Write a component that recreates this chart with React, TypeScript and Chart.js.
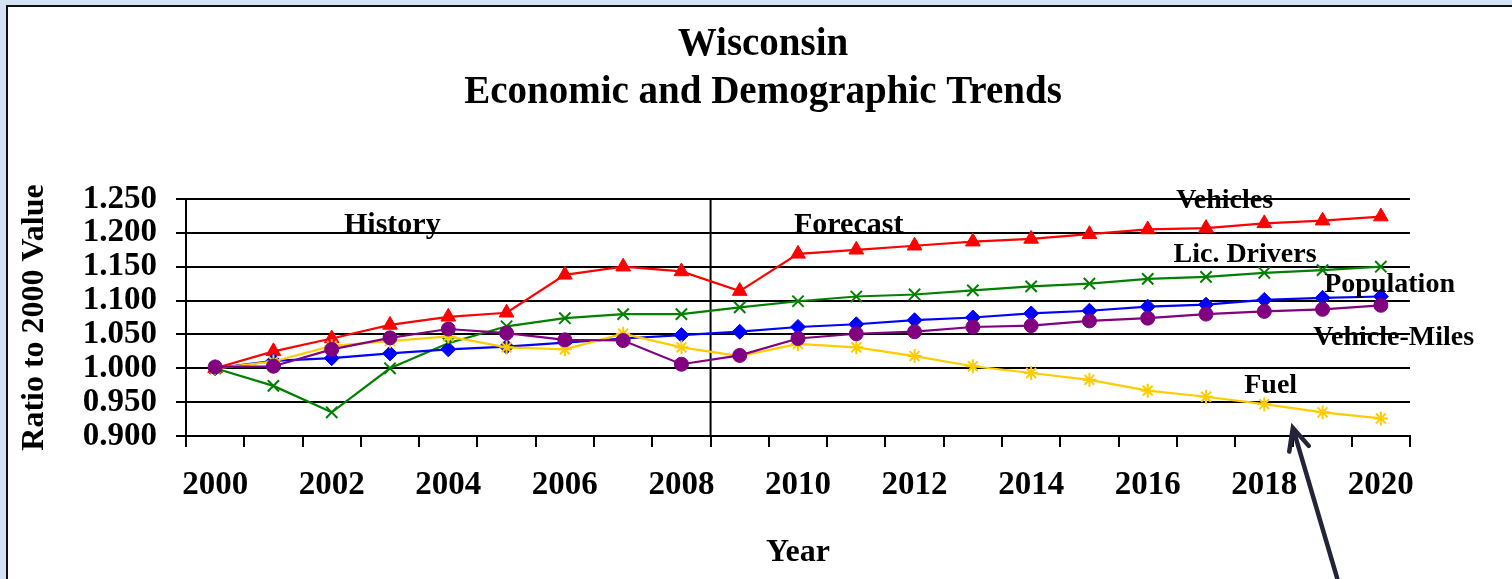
import React, { useEffect, useRef } from 'react';
import { Chart, registerables } from 'chart.js';

Chart.register(...registerables);

// ---------- data ----------
const years = ['2000', '2001', '2002', '2003', '2004', '2005', '2006', '2007', '2008', '2009', '2010',
  '2011', '2012', '2013', '2014', '2015', '2016', '2017', '2018', '2019', '2020'];

const vehicles = [1.000, 1.025, 1.044, 1.064, 1.076, 1.082, 1.138, 1.150, 1.143, 1.114, 1.169,
  1.175, 1.181, 1.187, 1.191, 1.198, 1.205, 1.207, 1.214, 1.218, 1.224];
const licDrivers = [1.000, 0.974, 0.935, 1.000, 1.037, 1.062, 1.074, 1.080, 1.080, 1.090, 1.099,
  1.106, 1.109, 1.115, 1.121, 1.125, 1.132, 1.135, 1.141, 1.145, 1.150];
const population = [1.000, 1.011, 1.015, 1.022, 1.028, 1.032, 1.038, 1.044, 1.049, 1.054, 1.061,
  1.065, 1.071, 1.075, 1.081, 1.085, 1.091, 1.094, 1.101, 1.104, 1.106];
const vehicleMiles = [1.002, 1.003, 1.028, 1.045, 1.058, 1.052, 1.042, 1.041, 1.006, 1.019, 1.044,
  1.051, 1.054, 1.061, 1.063, 1.070, 1.074, 1.080, 1.084, 1.087, 1.093];
const fuel = [1.000, 1.010, 1.033, 1.040, 1.047, 1.031, 1.028, 1.051, 1.031, 1.018, 1.036,
  1.031, 1.018, 1.003, 0.993, 0.983, 0.967, 0.958, 0.947, 0.935, 0.926];

const yTicks = [0.9, 0.95, 1.0, 1.05, 1.1, 1.15, 1.2, 1.25];

const titleLines = ['Wisconsin', 'Economic and Demographic Trends'];

// in-chart text labels: text, x (category index), y (value)
const labelTexts = ['Vehicles', 'Lic. Drivers', 'Population', 'Vehicle-Miles', 'Fuel', 'History', 'Forecast'];
const labelXs = [17.32, 17.67, 20.15, 20.22, 18.11, 3.04, 10.87];
const labelYs = [1.236, 1.157, 1.113, 1.035, 0.964, 1.200, 1.200];
const labelSizes = [28, 28, 28, 28, 28, 30, 30];

// history / forecast divider (between 2008 and 2009)
const dividerIndex = 8.5;

// annotation arrow: tip and tail in (category index, value)
const arrowTip = [18.49, 0.912];
const arrowTail = [19.25, 0.69];

const SERIF = "'Liberation Serif', 'Times New Roman', serif";

const overlayPlugin = {
  id: 'overlay',
  beforeDatasetsDraw(chart: any) {
    const { ctx, chartArea, scales } = chart;
    const x = scales.x.getPixelForValue(dividerIndex);
    ctx.save();
    ctx.strokeStyle = '#000';
    ctx.lineWidth = 2;
    ctx.beginPath();
    ctx.moveTo(x, chartArea.top);
    ctx.lineTo(x, chartArea.bottom);
    ctx.stroke();
    ctx.restore();
  },
  afterDatasetsDraw(chart: any) {
    const { ctx, scales, width } = chart;
    ctx.save();
    // title
    ctx.fillStyle = '#000';
    ctx.textAlign = 'center';
    ctx.textBaseline = 'alphabetic';
    ctx.font = `bold 39px ${SERIF}`;
    const tx = width / 2 + 3;
    ctx.fillText(titleLines[0], tx, 48);
    ctx.fillText(titleLines[1], tx, 96);
    // labels
    labelTexts.forEach((t, i) => {
      ctx.font = `bold ${labelSizes[i]}px ${SERIF}`;
      ctx.fillText(t, scales.x.getPixelForValue(labelXs[i]), scales.y.getPixelForValue(labelYs[i]));
    });
    // arrow
    const x1 = scales.x.getPixelForValue(arrowTip[0]);
    const y1 = scales.y.getPixelForValue(arrowTip[1]);
    const x2 = scales.x.getPixelForValue(arrowTail[0]);
    const y2 = scales.y.getPixelForValue(arrowTail[1]);
    ctx.strokeStyle = '#23233a';
    ctx.lineWidth = 4.5;
    ctx.lineCap = 'round';
    ctx.beginPath();
    ctx.moveTo(x2, y2);
    ctx.lineTo(x1, y1);
    const ang = Math.atan2(y2 - y1, x2 - x1);
    const hl = 24;
    const spread = (25 * Math.PI) / 180;
    ctx.moveTo(x1 + hl * Math.cos(ang + spread), y1 + hl * Math.sin(ang + spread));
    ctx.lineTo(x1, y1);
    ctx.lineTo(x1 + hl * Math.cos(ang - spread), y1 + hl * Math.sin(ang - spread));
    ctx.stroke();
    ctx.restore();
  },
};

export default function App() {
  const ref = useRef<HTMLCanvasElement>(null);

  useEffect(() => {
    if (!ref.current) return;
    const mk = (label: string, data: number[], color: string, pointStyle: string, radius: number, order: number, bw = 2) => ({
      label,
      data,
      borderColor: color,
      backgroundColor: color,
      borderWidth: 2.2,
      pointStyle,
      pointRadius: radius,
      pointBorderWidth: bw,
      pointBackgroundColor: color,
      pointBorderColor: color,
      tension: 0,
      order,
    });
    const chart = new Chart(ref.current, {
      type: 'line',
      data: {
        labels: years,
        datasets: [
          mk('Vehicles', vehicles, '#ff0000', 'triangle', 8.5, 4, 1),
          mk('Lic. Drivers', licDrivers, '#008000', 'crossRot', 8, 3, 2),
          mk('Population', population, '#0000ff', 'rectRot', 7.5, 2, 1),
          mk('Fuel', fuel, '#ffcc00', 'star', 7, 1, 2),
          mk('Vehicle-Miles', vehicleMiles, '#800080', 'circle', 7, 0, 1),
        ] as any,
      },
      options: {
        animation: false,
        responsive: true,
        maintainAspectRatio: false,
        layout: { padding: { left: 0, right: 102, top: 192, bottom: 0 } },
        plugins: {
          legend: { display: false },
          tooltip: { enabled: false },
          title: { display: false },
        },
        scales: {
          x: {
            type: 'category',
            offset: true,
            grid: { offset: true, drawOnChartArea: false, drawTicks: true, tickLength: 11, color: '#000', lineWidth: 2 },
            border: { display: true, color: '#000', width: 2 },
            ticks: {
              autoSkip: false,
              maxRotation: 0,
              minRotation: 0,
              padding: 19,
              color: '#000',
              font: { family: SERIF, size: 33, weight: 'bold' },
              callback: (_v: any, i: number) => (i % 2 === 0 ? years[i] : ''),
            },
            title: {
              display: true,
              text: 'Year',
              color: '#000',
              font: { family: SERIF, size: 32, weight: 'bold' },
              padding: { top: 0, bottom: 7 },
            },
            afterFit: (s: any) => { s.height = 143; },
          },
          y: {
            min: 0.9,
            max: 1.25,
            afterBuildTicks: (s: any) => { s.ticks = yTicks.map((v) => ({ value: v })); },
            grid: { color: '#000', lineWidth: 2, tickLength: 10, drawTicks: true },
            border: { display: true, color: '#000', width: 2 },
            ticks: {
              autoSkip: false,
              padding: 19,
              color: '#000',
              font: { family: SERIF, size: 33, weight: 'bold', lineHeight: 1 },
              callback: (v: any) => Number(v).toFixed(3),
            },
            title: {
              display: true,
              text: 'Ratio to 2000 Value',
              color: '#000',
              font: { family: SERIF, size: 32, weight: 'bold' },
              padding: { top: 8, bottom: 0 },
            },
            afterFit: (s: any) => { s.width = 178; },
          },
        },
      } as any,
      plugins: [overlayPlugin],
    });
    return () => chart.destroy();
  }, []);

  return (
    <div style={{ position: 'fixed', inset: 0, background: '#d3e2f4', overflow: 'hidden' }}>
      <div
        style={{
          position: 'absolute', left: 6, top: 5, width: 1600, height: 700,
          borderLeft: '2px solid #111', borderTop: '2px solid #111', background: '#fff',
        }}
      />
      <div style={{ position: 'absolute', left: 8, top: 7, width: 1504, height: 572 }}>
        <canvas ref={ref} />
      </div>
    </div>
  );
}
